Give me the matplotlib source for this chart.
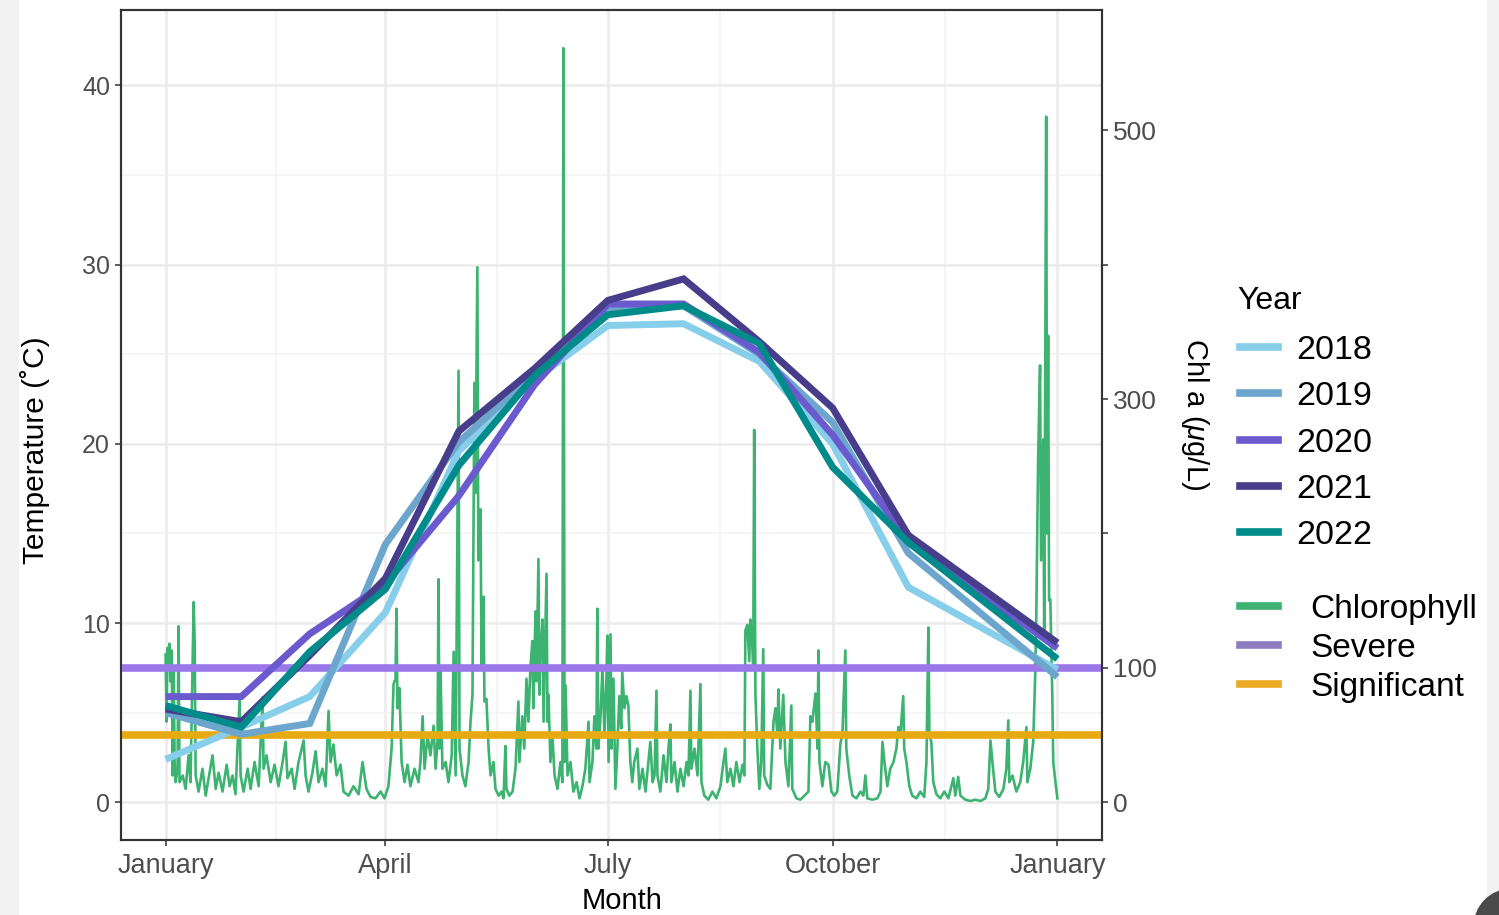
import matplotlib
matplotlib.use('Agg')
import matplotlib.pyplot as plt
from matplotlib.lines import Line2D
from matplotlib.patches import Rectangle, Circle

plt.rcParams['font.family'] = ['Liberation Sans', 'DejaVu Sans']
plt.rcParams['mathtext.fontset'] = 'custom'
plt.rcParams['mathtext.it'] = 'Liberation Sans:italic'
plt.rcParams['mathtext.rm'] = 'Liberation Sans'

# ---------------- data ----------------
month_days = [0, 31, 59, 90, 120, 151, 181, 212, 243, 273, 304, 365]
years = ['2018', '2019', '2020', '2021', '2022']
temp_2018 = [2.4, 4.2, 5.9, 10.6, 19.6, 23.6, 26.6, 26.7, 24.6, 20.0, 12.0, 7.4]
temp_2019 = [5.0, 3.8, 4.4, 14.4, 20.1, 23.9, 27.5, 27.7, 25.0, 21.2, 13.9, 7.0]
temp_2020 = [5.9, 5.9, 9.4, 12.2, 17.1, 23.3, 27.8, 27.8, 25.1, 20.5, 14.6, 8.6]
temp_2021 = [5.2, 4.5, 8.2, 12.5, 20.7, 24.2, 28.0, 29.2, 25.7, 22.0, 14.9, 8.9]
temp_2022 = [5.4, 4.2, 8.4, 11.9, 18.8, 23.8, 27.2, 27.7, 25.6, 18.7, 14.5, 8.0]
year_colors = ['#87CEEB', '#6CA6CD', '#6A5ACD', '#483D8B', '#008B8B']

chl_day = [
    0, 0.4, 0.8, 1.2, 1.6, 2.0, 2.5, 2.9, 3.3, 3.7,
    4.1, 4.9, 5.3, 5.7, 7.0, 8.2, 9.4, 10.2, 11.5, 11.9,
    12.3, 13.5, 15.1, 16.4, 17.6, 19.2, 20.5, 21.7, 23.3, 25.0,
    26.2, 27.4, 28.6, 30.3, 30.7, 31.9, 33.6, 34.8, 36.4, 38.1,
    39.7, 40.1, 41.3, 43.0, 44.6, 46.2, 47.9, 49.1, 49.9, 51.6,
    52.8, 54.4, 56.5, 57.3, 58.5, 60.1, 61.4, 62.6, 64.2, 65.5,
    66.7, 67.5, 68.7, 70.0, 71.6, 72.8, 74.9, 76.9, 79.0, 80.6,
    82.2, 83.9, 85.9, 88.0, 89.6, 91.2, 92.5, 93.3, 94.1, 94.5,
    94.9, 95.7, 96.6, 97.8, 99.0, 100.2, 101.9, 103.5, 104.3, 105.2,
    106.0, 107.2, 108.4, 109.7, 110.5, 111.3, 111.7, 112.1, 112.5, 113.3,
    114.6, 115.8, 117.1, 117.9, 118.7, 119.9, 120.3, 121.5, 122.7, 124.0,
    124.8, 125.6, 126.4, 126.8, 127.6, 128.0, 128.9, 129.3, 130.1, 130.5,
    131.3, 132.2, 133.0, 134.2, 135.0, 136.3, 137.5, 138.3, 139.1, 139.5,
    140.7, 142.0, 143.2, 144.4, 144.8, 146.0, 146.8, 147.7, 148.5, 149.3,
    150.1, 150.5, 151.4, 151.8, 152.6, 153.0, 153.4, 154.3, 154.7, 155.9,
    156.3, 156.7, 157.5, 158.3, 159.2, 160.4, 161.6, 162.4, 162.8, 163.3,
    163.7, 164.5, 165.7, 166.9, 168.2, 169.4, 170.6, 171.8, 173.1, 173.5,
    174.7, 175.5, 176.3, 176.7, 177.1, 177.9, 178.8, 179.6, 180.4, 180.8,
    181.3, 182.1, 182.5, 183.3, 184.1, 184.9, 185.7, 186.5, 186.9, 187.8,
    188.6, 189.4, 190.2, 191.0, 191.8, 193.1, 193.9, 195.2, 196.4, 197.6,
    198.4, 199.3, 200.1, 200.9, 201.3, 202.5, 203.8, 205.0, 205.8, 206.6,
    207.0, 208.3, 209.5, 210.7, 212.0, 213.2, 214.0, 214.8, 215.2, 216.5,
    217.7, 218.9, 219.3, 220.5, 222.1, 223.8, 225.4, 227.1, 227.9, 229.1,
    229.9, 231.2, 232.4, 233.6, 234.9, 236.1, 236.9, 237.3, 238.1, 238.9,
    239.3, 240.1, 240.5, 240.9, 241.4, 242.2, 243.0, 243.8, 244.6, 245.0,
    246.3, 247.5, 248.8, 249.6, 250.4, 250.8, 251.6, 252.8, 253.7, 254.9,
    256.1, 256.5, 258.2, 259.8, 261.5, 263.1, 263.9, 264.7, 266.0, 266.8,
    267.2, 267.6, 268.8, 270.0, 271.3, 272.5, 273.7, 274.9, 276.2, 277.0,
    278.2, 278.6, 279.8, 281.1, 282.7, 284.4, 285.6, 286.4, 287.2, 289.3,
    291.3, 292.6, 293.4, 294.2, 295.4, 296.6, 297.9, 299.1, 299.9, 300.7,
    301.9, 302.3, 303.2, 304.4, 305.6, 307.3, 308.9, 310.5, 311.4, 312.2,
    312.6, 313.4, 314.2, 315.5, 317.1, 318.7, 320.4, 322.4, 323.2, 324.4,
    325.3, 327.3, 329.4, 331.4, 333.5, 335.5, 336.7, 337.6, 338.4, 339.6,
    341.2, 342.9, 344.1, 344.9, 345.3, 346.6, 348.2, 349.8, 351.0, 352.3,
    352.7, 353.9, 355.1, 355.9, 356.3, 357.1, 357.9, 358.3, 359.2, 359.6,
    360.4, 360.8, 361.2, 361.6, 362.1, 362.9, 363.3, 364.2, 365.0,
]
chl_val = [
    110, 60, 115, 105, 118, 90, 113, 20, 100, 30,
    15, 25, 131, 15, 20, 10, 35, 15, 149, 119,
    20, 8, 25, 5, 18, 35, 10, 22, 8, 28,
    12, 20, 6, 77, 20, 8, 25, 10, 30, 12,
    78, 25, 35, 15, 28, 12, 30, 45, 18, 25,
    10, 30, 46, 20, 8, 22, 38, 15, 25, 12,
    68, 30, 43, 20, 28, 8, 5, 12, 6, 30,
    10, 4, 3, 8, 3, 12, 40, 88, 92, 144,
    70, 85, 30, 15, 28, 12, 25, 15, 30, 64,
    25, 50, 35, 57, 25, 45, 166, 40, 101, 25,
    30, 15, 35, 112, 20, 321, 40, 20, 12, 30,
    60, 80, 312, 230, 398, 180, 218, 100, 153, 75,
    77, 40, 20, 30, 10, 5, 8, 3, 42, 10,
    5, 8, 25, 75, 30, 64, 40, 92, 60, 100,
    120, 70, 142, 90, 181, 80, 110, 136, 60, 170,
    60, 80, 30, 50, 20, 10, 30, 15, 561, 30,
    87, 20, 30, 8, 15, 3, 12, 25, 60, 15,
    30, 64, 40, 144, 40, 60, 100, 50, 90, 124,
    30, 125, 40, 92, 10, 40, 79, 55, 97, 70,
    79, 72, 30, 15, 30, 40, 10, 25, 8, 30,
    45, 15, 20, 83, 20, 8, 35, 15, 40, 58,
    15, 30, 8, 25, 12, 30, 20, 83, 25, 40,
    20, 88, 15, 5, 2, 8, 3, 12, 24, 40,
    15, 25, 12, 30, 15, 28, 20, 128, 132, 105,
    136, 119, 100, 277, 80, 40, 10, 30, 114, 20,
    13, 10, 60, 70, 50, 84, 40, 80, 30, 12,
    72, 10, 3, 2, 5, 8, 64, 60, 81, 40,
    113, 30, 12, 30, 28, 8, 5, 8, 44, 50,
    113, 40, 20, 5, 3, 8, 5, 20, 3, 2,
    3, 8, 45, 30, 12, 25, 30, 40, 56, 50,
    79, 40, 30, 12, 5, 3, 8, 4, 30, 130,
    50, 45, 15, 6, 3, 8, 3, 18, 5, 19,
    5, 2, 1, 2, 1, 3, 10, 46, 30, 8,
    4, 10, 25, 61, 15, 20, 8, 15, 30, 56,
    15, 25, 45, 94, 130, 255, 325, 180, 270, 120,
    510, 200, 347, 150, 151, 80, 30, 15, 3,
]
severe_level = 100
significant_level = 50
chl_color = '#3CB371'
severe_color = '#9B78E8'
severe_key_color = '#8E7CC3'
significant_color = '#E8AA12'
significant_key_color = '#EBAB25'

month_tick_days = [0, 90, 181, 273, 365]
month_tick_labels = ['January', 'April', 'July', 'October', 'January']
month_minor_days = [45, 135.5, 227, 319]

# ---------------- figure ----------------
W, H = 1499, 915
fig = plt.figure(figsize=(W / 100, H / 100), dpi=100)
fig.patch.set_facecolor('white')
ax = fig.add_axes([121 / W, 1 - 840 / H, (1102 - 121) / W, (840 - 10) / H])
ax2 = ax.twinx()

temp_lim = (-2.1, 44.2)
k = severe_level / 7.5            # chl units per degree
chl_lim = (temp_lim[0] * k, temp_lim[1] * k)
ax.set_xlim(-18.25, 383.25)
ax.set_ylim(*temp_lim)
ax2.set_ylim(*chl_lim)

# grid
ax.set_axisbelow(True)
ax.set_yticks([0, 10, 20, 30, 40])
ax.set_yticks([5, 15, 25, 35], minor=True)
ax.set_xticks(month_tick_days)
ax.set_xticks(month_minor_days, minor=True)
ax.set_xticklabels(month_tick_labels)
ax.grid(True, which='major', color='#EBEBEB', lw=1.8)
ax.grid(True, which='minor', color='#F2F2F2', lw=1.1)

# chlorophyll and thresholds (in chl units, drawn beneath temperature lines)
ax.plot(chl_day, chl_val, color=chl_color, lw=1.9, transform=ax2.transData, zorder=2)
ax.axhline(severe_level / k, color=severe_color, lw=5.5, zorder=3)
ax.axhline(significant_level / k, color=significant_color, lw=5.5, zorder=3)

temps = [temp_2018, temp_2019, temp_2020, temp_2021, temp_2022]
for t, c in zip(temps, year_colors):
    ax.plot(month_days, t, color=c, lw=5, solid_capstyle='butt', solid_joinstyle='miter', zorder=4)

# right axis ticks
ax2.set_yticks([0, 100, 200, 300, 400, 500])
ax2.set_yticklabels(['0', '100', '', '300', '', '500'])

for a in (ax, ax2):
    for s in a.spines.values():
        s.set_color('#333333')
        s.set_linewidth(1.5)
ax.tick_params(axis='both', which='major', length=4, width=1.1, color='#333333',
               labelcolor='#4D4D4D', labelsize=19.5)
ax.tick_params(axis='x', which='major', pad=5.5)
ax.tick_params(axis='y', which='major', pad=4, labelsize=18)
ax.tick_params(which='minor', length=0)
ax2.tick_params(axis='y', length=4, width=1.1, color='#333333', labelcolor='#4D4D4D',
                labelsize=19, pad=4)

ax.set_xlabel('Month', fontsize=21, color='black', va='center')
ax.xaxis.set_label_coords((622 - 121) / 981, (840 - 901) / 830)
ax.set_ylabel('Temperature (˚C)', fontsize=21.5, color='black', va='center')
ax.yaxis.set_label_coords((35 - 121) / 981, (840 - 450) / 830)
ax2.set_ylabel(r'Chl a ($\mu$g/L)', fontsize=21, color='black', rotation=270,
               va='center', ha='center')
ax2.yaxis.set_label_coords((1195 - 121) / 981, (840 - 414) / 830)

# legends
fig.text(1237 / W, 1 - 301 / H, 'Year', fontsize=23, color='black',
         ha='left', va='center')
year_handles = [Line2D([], [], color=c, lw=5.5) for c in year_colors]
leg1 = fig.legend(year_handles, years, loc='upper left',
                  bbox_to_anchor=(1240 / W, 1 - 335 / H), frameon=False,
                  fontsize=24.5, handlelength=1.13,
                  handletextpad=0.52, labelspacing=0.45, borderpad=0,
                  borderaxespad=0)
other_handles = [Line2D([], [], color=chl_color, lw=5.5),
                 Line2D([], [], color=severe_key_color, lw=5.5),
                 Line2D([], [], color=significant_key_color, lw=5.5)]
leg2 = fig.legend(other_handles, ['Chlorophyll', 'Severe', 'Significant'],
                  loc='upper left', bbox_to_anchor=(1240 / W, 1 - 594 / H),
                  frameon=False, fontsize=24, handlelength=1.15,
                  handletextpad=0.95, labelspacing=0.24, borderpad=0,
                  borderaxespad=0)

# screenshot edges
fig.add_artist(Rectangle((0, 0), 18 / W, 1, transform=fig.transFigure,
                         color='#F2F2F2', zorder=-5))
fig.add_artist(Rectangle((1487 / W, 0), 12 / W, 1, transform=fig.transFigure,
                         color='#F2F2F2', zorder=-5))
fig.add_artist(Circle((15.12, -0.12), 0.38, transform=fig.dpi_scale_trans,
                      color='#4A4A4A', zorder=10))

fig.savefig('out.png', dpi=100)
